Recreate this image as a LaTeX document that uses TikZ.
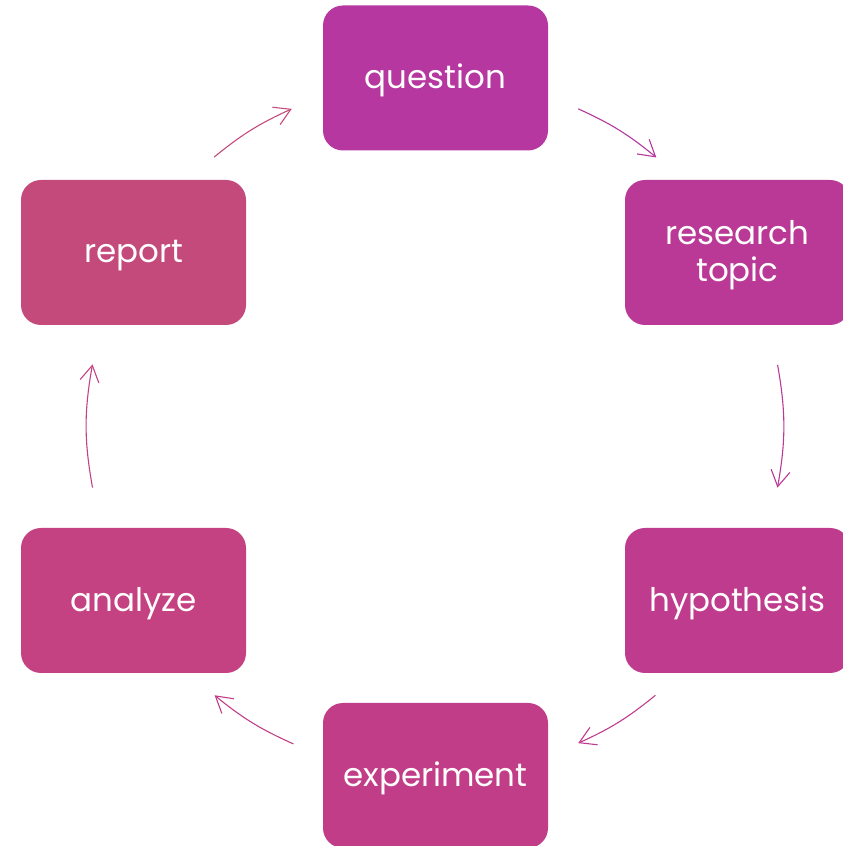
\documentclass[tikz,border=0pt]{standalone}
\usepackage{fontspec}
\setmainfont{Poppins}
\usetikzlibrary{arrows.meta,calc}

\definecolor{cQuestion}{HTML}{B5379F}
\definecolor{cResearch}{HTML}{BA3996}
\definecolor{cHypothesis}{HTML}{BF3B8E}
\definecolor{cExperiment}{HTML}{C23D87}
\definecolor{cAnalyze}{HTML}{C44281}
\definecolor{cReport}{HTML}{C44A7C}

\tikzset{
  stage/.style={fill=#1, draw=none, rounded corners=20pt,
    minimum width=225pt, minimum height=145pt, inner sep=0pt,
    text=white, align=center, text depth=3pt,
    font=\fontsize{32.5}{37}\selectfont},
  flow/.style={draw=#1, line width=1.1pt,
    -{Straight Barb[length=16pt,width=19pt,line width=1.1pt]}},
}

\begin{document}
\begin{tikzpicture}[x=1pt,y=1pt]
  \useasboundingbox (0,0) rectangle (843,846);
  \clip (0,0) rectangle (843,846);

  % six stages around the cycle
  \node[stage=cQuestion]   (question)   at (435.5,768)   {question};
  \node[stage=cResearch]   (research)   at (737.5,593.5) {research\\topic};
  \node[stage=cHypothesis] (hypothesis) at (737.5,245.5) {hypothesis};
  \node[stage=cExperiment] (experiment) at (435.5,70.5)  {experiment};
  \node[stage=cAnalyze]    (analyze)    at (133.5,245.5) {analyze};
  \node[stage=cReport]     (report)     at (133.5,593.5) {report};

  % arrow end points on a circle around the cycle centre
  \coordinate (c) at (435,420);
  \def\R{348}
  \coordinate (qrS) at ($(c)+(65.7:\R)$);
  \coordinate (qrE) at ($(c)+(50.5:\R)$);
  \coordinate (rhS) at ($(c)+(10.1:\R)$);
  \coordinate (rhE) at ($(c)+(-10.2:\R)$);
  \coordinate (heS) at ($(c)+(-50.7:\R)$);
  \coordinate (heE) at ($(c)+(-65.7:\R)$);
  \coordinate (eaS) at ($(c)+(-114:\R)$);
  \coordinate (eaE) at ($(c)+(-129.3:\R)$);
  \coordinate (arS) at ($(c)+(190.2:\R)$);
  \coordinate (arE) at ($(c)+(169.8:\R)$);
  \coordinate (rqS) at ($(c)+(129.4:\R)$);
  \coordinate (rqE) at ($(c)+(114.3:\R)$);

  % clockwise arrows between the stages
  \draw[flow=cQuestion]   (qrS) to[bend left=7.6]  (qrE);
  \draw[flow=cResearch]   (rhS) to[bend left=10.1] (rhE);
  \draw[flow=cHypothesis] (heS) to[bend left=7.5]  (heE);
  \draw[flow=cExperiment] (eaS) to[bend left=7.6]  (eaE);
  \draw[flow=cAnalyze]    (arS) to[bend left=10.2] (arE);
  \draw[flow=cReport]     (rqS) to[bend left=7.5]  (rqE);
\end{tikzpicture}
\end{document}
